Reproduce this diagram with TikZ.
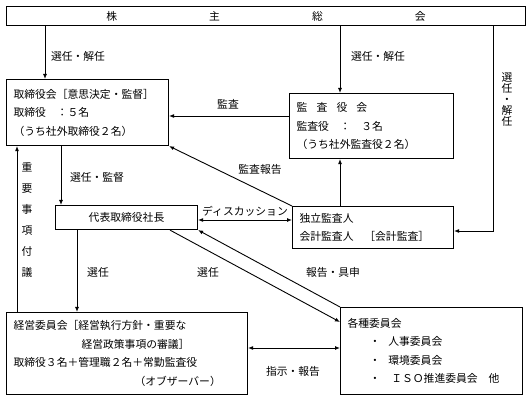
\documentclass[tikz,border=0pt]{standalone}
\usepackage{fontspec}
\newfontfamily\jpfont{Noto Sans CJK JP}
\usetikzlibrary{arrows.meta}

\tikzset{
  box/.style={draw, line width=1.1pt, anchor=north west, align=left, inner xsep=7pt, inner ysep=0pt},
  lbl/.style={inner sep=0pt},
  conn/.style={line width=0.9pt}
}

\begin{document}
\begin{tikzpicture}[x=1pt, y=-1pt, >={Latex[length=5pt,width=4pt]}, font=\jpfont\fontsize{10.8}{18.5}\selectfont]
	\useasboundingbox (0,0) rectangle (531,401);
	\node[box, align=center, text width=505pt, minimum height=19pt] (soukai) at (6,6) {株\hspace{92pt}主\hspace{92pt}総\hspace{92pt}会};
	\node[box, text width=148pt, minimum height=66pt] (torishimari) at (6,79) {取締役会［意思決定・監督］\\取締役　：５名\\（うち社外取締役２名）};
	\node[box, text width=150pt, minimum height=65pt] (kansayaku) at (289,93) {監\hspace{0.85em}査\hspace{0.85em}役\hspace{0.85em}会\\監査役　：　３名\\（うち社外監査役２名）};
	\node[box, align=center, text width=128pt, minimum height=24pt] (shachou) at (55,205) {代表取締役社長};
	\node[box, text width=147pt, minimum height=42pt] (kansanin) at (292,206) {独立監査人\\会計監査人　［会計監査］};
	\node[box, text width=227pt, minimum height=82pt] (keiei) at (6,312) {経営委員会［経営執行方針・重要な\\\hspace{68pt}経営政策事項の審議］\\取締役３名＋管理職２名＋常勤監査役\\\hspace{121pt}（オブザーバー）};
	\node[box, text width=168pt, minimum height=87pt] (iinkai) at (340,307) {各種委員会\\\hspace{22pt}・\hspace{8pt}人事委員会\\\hspace{22pt}・\hspace{8pt}環境委員会\\\hspace{22pt}・\hspace{11pt}ＩＳＯ推進委員会　他};

	\draw[conn,->] (soukai.south -| 45,0) -- (torishimari.north -| 45,0);
	\draw[conn,->] (soukai.south -| 340,0) -- (kansayaku.north -| 340,0);
	\draw[conn,->] (soukai.south -| 493,0) |- (kansanin.east |- 0,231);
	\draw[conn,->] (kansayaku.west |- 0,116) -- (torishimari.east |- 0,116);
	\draw[conn,->] (kansanin.north -| 340,0) -- (kansayaku.south -| 340,0);
	\draw[conn,->] (kansanin.north west) -- (torishimari.south east);
	\draw[conn,<->] (shachou.east |- 0,220) -- (kansanin.west |- 0,220);
	\draw[conn,->] (torishimari.south -| 61,0) -- (shachou.north -| 61,0);
	\draw[conn,->] (keiei.north -| 17,0) -- (torishimari.south -| 17,0);
	\draw[conn,->] (shachou.south -| 77,0) -- (keiei.north -| 77,0);
	\draw[conn,->] (shachou.south -| 170,0) -- (iinkai.west |- 0,322);
	\draw[conn,->] (iinkai.north west) -- (shachou.south east);
	\draw[conn,<->] (keiei.east |- 0,348) -- (iinkai.west |- 0,348);

	\node[lbl] (sennin1) at (78,56) {選任・解任};
	\node[lbl] (sennin2) at (378,56) {選任・解任};
	\node[lbl, align=center, font=\jpfont\fontsize{10.8}{11}\selectfont] (sennin3) at (507,100) {選\\任\\・\\解\\任};
	\node[lbl] (kansa) at (228,104) {監査};
	\node[lbl] (kantoku) at (97,177) {選任・監督};
	\node[lbl] (houkoku1) at (260,169) {監査報告};
	\node[lbl] (discuss) at (245,211) {ディスカッション};
	\node[lbl, align=center, font=\jpfont\fontsize{10.8}{21}\selectfont] (fugi) at (27,220) {重\\要\\事\\項\\付\\議};
	\node[lbl] (sennin4) at (98,272) {選任};
	\node[lbl] (sennin5) at (208,272) {選任};
	\node[lbl] (gushin) at (333,272) {報告・具申};
	\node[lbl] (shiji) at (293,371) {指示・報告};
\end{tikzpicture}
\end{document}
